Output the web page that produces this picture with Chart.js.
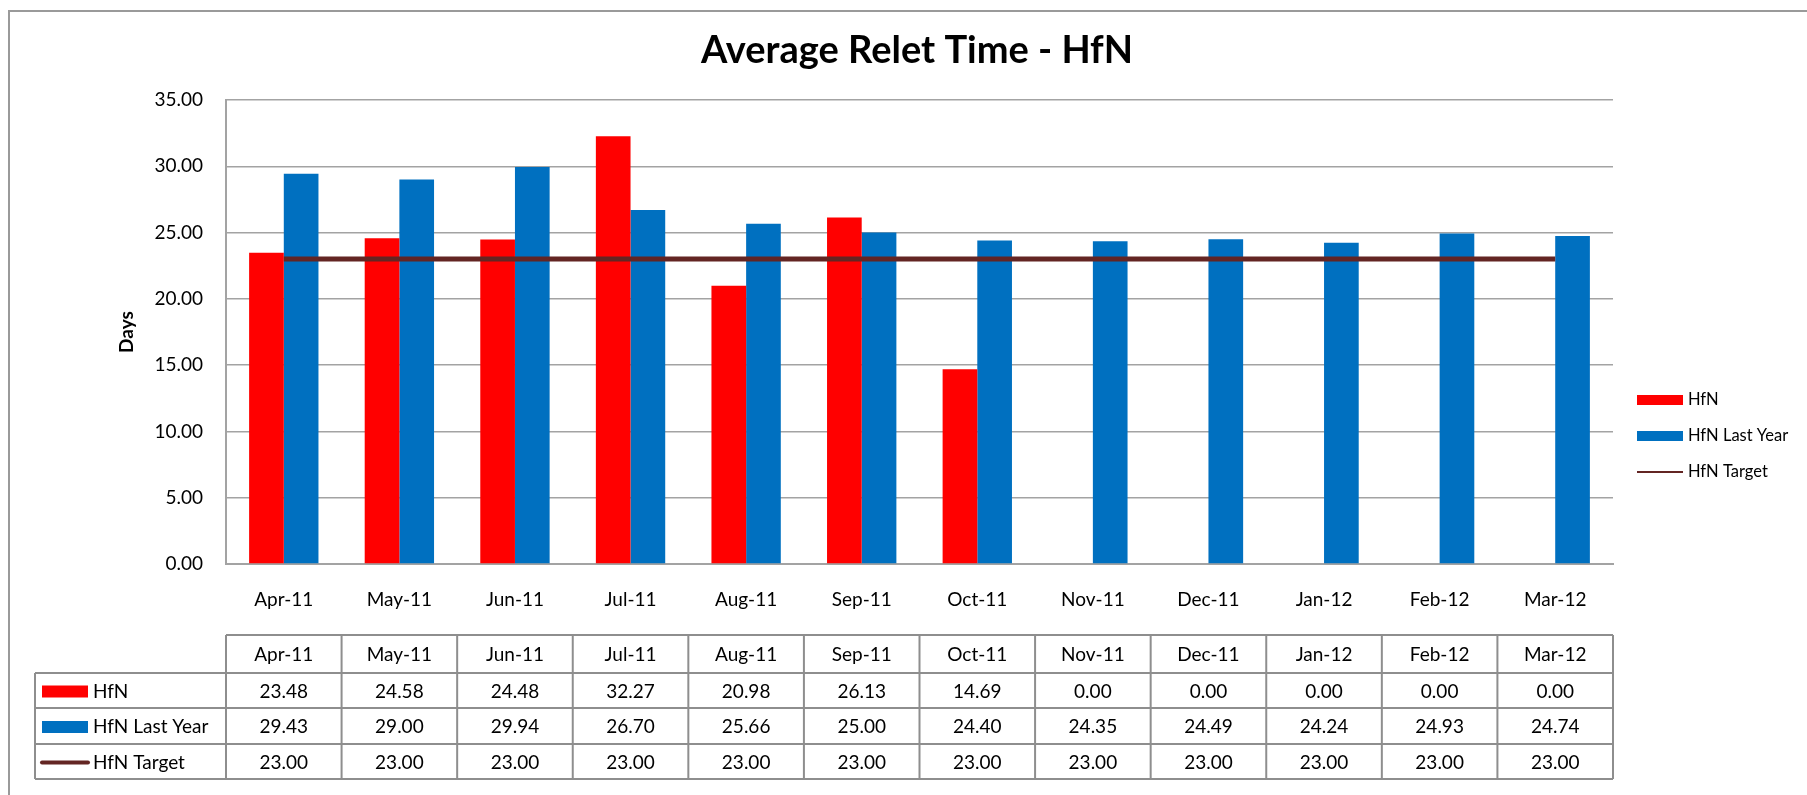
<!DOCTYPE html>
<html>
<head>
<meta charset="utf-8">
<script src="https://cdn.jsdelivr.net/npm/chart.js@4/dist/chart.umd.min.js"></script>
<style>
  html, body { margin: 0; padding: 0; background: #ffffff; }
  #wrap { width: 1807px; height: 795px; }
</style>
</head>
<body>
<div id="wrap"><canvas id="c" width="1807" height="795"></canvas></div>
<script>
const categories = ['Apr-11','May-11','Jun-11','Jul-11','Aug-11','Sep-11','Oct-11','Nov-11','Dec-11','Jan-12','Feb-12','Mar-12'];
const hfn = [23.48, 24.58, 24.48, 32.27, 20.98, 26.13, 14.69, 0.00, 0.00, 0.00, 0.00, 0.00];
const hfnLastYear = [29.43, 29.00, 29.94, 26.70, 25.66, 25.00, 24.40, 24.35, 24.49, 24.24, 24.93, 24.74];
const hfnTarget = [23.00, 23.00, 23.00, 23.00, 23.00, 23.00, 23.00, 23.00, 23.00, 23.00, 23.00, 23.00];
const titleText = 'Average Relet Time - HfN';
const yAxisTitle = 'Days';
const yMin = 0, yMax = 35, yStep = 5;

const RED = '#ff0000', BLUE = '#0070c0', TARGET = '#632523';
const FONT = 'Lato, "Open Sans", sans-serif';
const GRID = '#a3a3a3', TABLE_LINE = '#8e8e8e';

const extras = {
  id: 'extras',
  beforeDraw(chart) {
    const ctx = chart.ctx;
    ctx.save();
    ctx.fillStyle = '#ffffff';
    ctx.fillRect(0, 0, chart.width, chart.height);
    // outer frame (left + top visible)
    ctx.strokeStyle = '#9a9a9a';
    ctx.lineWidth = 2;
    ctx.beginPath();
    ctx.moveTo(9, 800);
    ctx.lineTo(9, 11);
    ctx.lineTo(1810, 11);
    ctx.stroke();
    ctx.restore();
  },
  afterDraw(chart) {
    const ctx = chart.ctx;
    const xs = chart.scales.x;
    const area = chart.chartArea;
    const ds = chart.data.datasets;
    ctx.save();
    // title
    ctx.fillStyle = '#000';
    ctx.font = 'bold 38px ' + FONT;
    ctx.textAlign = 'center';
    ctx.textBaseline = 'middle';
    ctx.fillText(titleText, 917, 51);
    // y axis title
    ctx.save();
    ctx.translate(127, (area.top + area.bottom) / 2);
    ctx.rotate(-Math.PI / 2);
    ctx.font = 'bold 19px ' + FONT;
    ctx.fillText(yAxisTitle, 0, 0);
    ctx.restore();

    // legend (right)
    const legY = [400, 436, 472];
    ctx.font = '16.5px ' + FONT;
    ctx.textAlign = 'left';
    ds.forEach((d, i) => {
      const y = legY[i];
      if (d.type === 'line') {
        ctx.strokeStyle = d.borderColor;
        ctx.lineWidth = 2;
        ctx.beginPath(); ctx.moveTo(1637, y); ctx.lineTo(1683, y); ctx.stroke();
      } else {
        ctx.fillStyle = d.backgroundColor;
        ctx.fillRect(1637, y - 5, 46, 10);
      }
      ctx.fillStyle = '#000';
      ctx.fillText(d.label, 1688, y);
    });

    // data table
    const n = categories.length;
    const cw = (xs.right - xs.left) / n;
    const tTop = 635, hBot = 673;
    const rowB = [708, 744, 779];
    const labelLeft = 35;
    ctx.strokeStyle = TABLE_LINE;
    ctx.lineWidth = 2;
    ctx.beginPath();
    ctx.moveTo(xs.left, tTop); ctx.lineTo(xs.right, tTop);
    ctx.moveTo(labelLeft, hBot); ctx.lineTo(xs.right, hBot);
    rowB.forEach(y => { ctx.moveTo(labelLeft, y); ctx.lineTo(xs.right, y); });
    ctx.moveTo(labelLeft, hBot); ctx.lineTo(labelLeft, rowB[2]);
    for (let i = 0; i <= n; i++) {
      const x = xs.left + i * cw;
      ctx.moveTo(x, tTop); ctx.lineTo(x, rowB[2]);
    }
    ctx.stroke();

    ctx.fillStyle = '#000';
    ctx.font = '19px ' + FONT;
    ctx.textAlign = 'center';
    ctx.textBaseline = 'middle';
    categories.forEach((c, i) => {
      ctx.fillText(c, xs.getPixelForValue(i), (tTop + hBot) / 2 + 1);
    });
    const rowTops = [hBot, rowB[0], rowB[1]];
    ds.forEach((d, r) => {
      const yc = (rowTops[r] + rowB[r]) / 2 + 1;
      if (d.type === 'line') {
        ctx.strokeStyle = d.borderColor;
        ctx.lineWidth = 4;
        ctx.lineCap = 'round';
        ctx.beginPath(); ctx.moveTo(42, yc); ctx.lineTo(88, yc); ctx.stroke();
        ctx.lineCap = 'butt';
      } else {
        ctx.fillStyle = d.backgroundColor;
        ctx.fillRect(42, yc - 6, 46, 12);
      }
      ctx.fillStyle = '#000';
      ctx.textAlign = 'left';
      ctx.fillText(d.label, 93, yc);
      ctx.textAlign = 'center';
      d.data.forEach((v, i) => {
        ctx.fillText(v.toFixed(2), xs.getPixelForValue(i), yc);
      });
    });
    ctx.restore();
  }
};

new Chart(document.getElementById('c'), {
  data: {
    labels: categories,
    datasets: [
      { type: 'bar', label: 'HfN', data: hfn, backgroundColor: RED, borderWidth: 0, order: 2,
        categoryPercentage: 0.6, barPercentage: 1.0 },
      { type: 'bar', label: 'HfN Last Year', data: hfnLastYear, backgroundColor: BLUE, borderWidth: 0, order: 2,
        categoryPercentage: 0.6, barPercentage: 1.0 },
      { type: 'line', label: 'HfN Target', data: hfnTarget, borderColor: TARGET, backgroundColor: TARGET,
        borderWidth: 5, pointRadius: 0, tension: 0, order: 0 }
    ]
  },
  options: {
    responsive: false,
    devicePixelRatio: 1,
    animation: false,
    layout: { padding: { left: 0, top: 100, right: 194, bottom: 0 } },
    plugins: { legend: { display: false }, tooltip: { enabled: false }, title: { display: false } },
    scales: {
      x: {
        offset: true,
        grid: { display: false, drawTicks: false },
        border: { display: true, color: GRID, width: 2 },
        ticks: { color: '#000', font: { family: FONT, size: 19 }, padding: 24, maxRotation: 0, autoSkip: false },
        afterFit(scale) { scale.height = 231; }
      },
      y: {
        min: yMin, max: yMax,
        grid: { color: GRID, lineWidth: 1.5, drawTicks: false },
        border: { display: true, color: GRID, width: 2 },
        ticks: { stepSize: yStep, color: '#000', font: { family: FONT, size: 19 }, padding: 23,
          callback: v => Number(v).toFixed(2) },
        afterFit(scale) { scale.width = 226; }
      }
    }
  },
  plugins: [extras]
});
</script>
</body>
</html>
